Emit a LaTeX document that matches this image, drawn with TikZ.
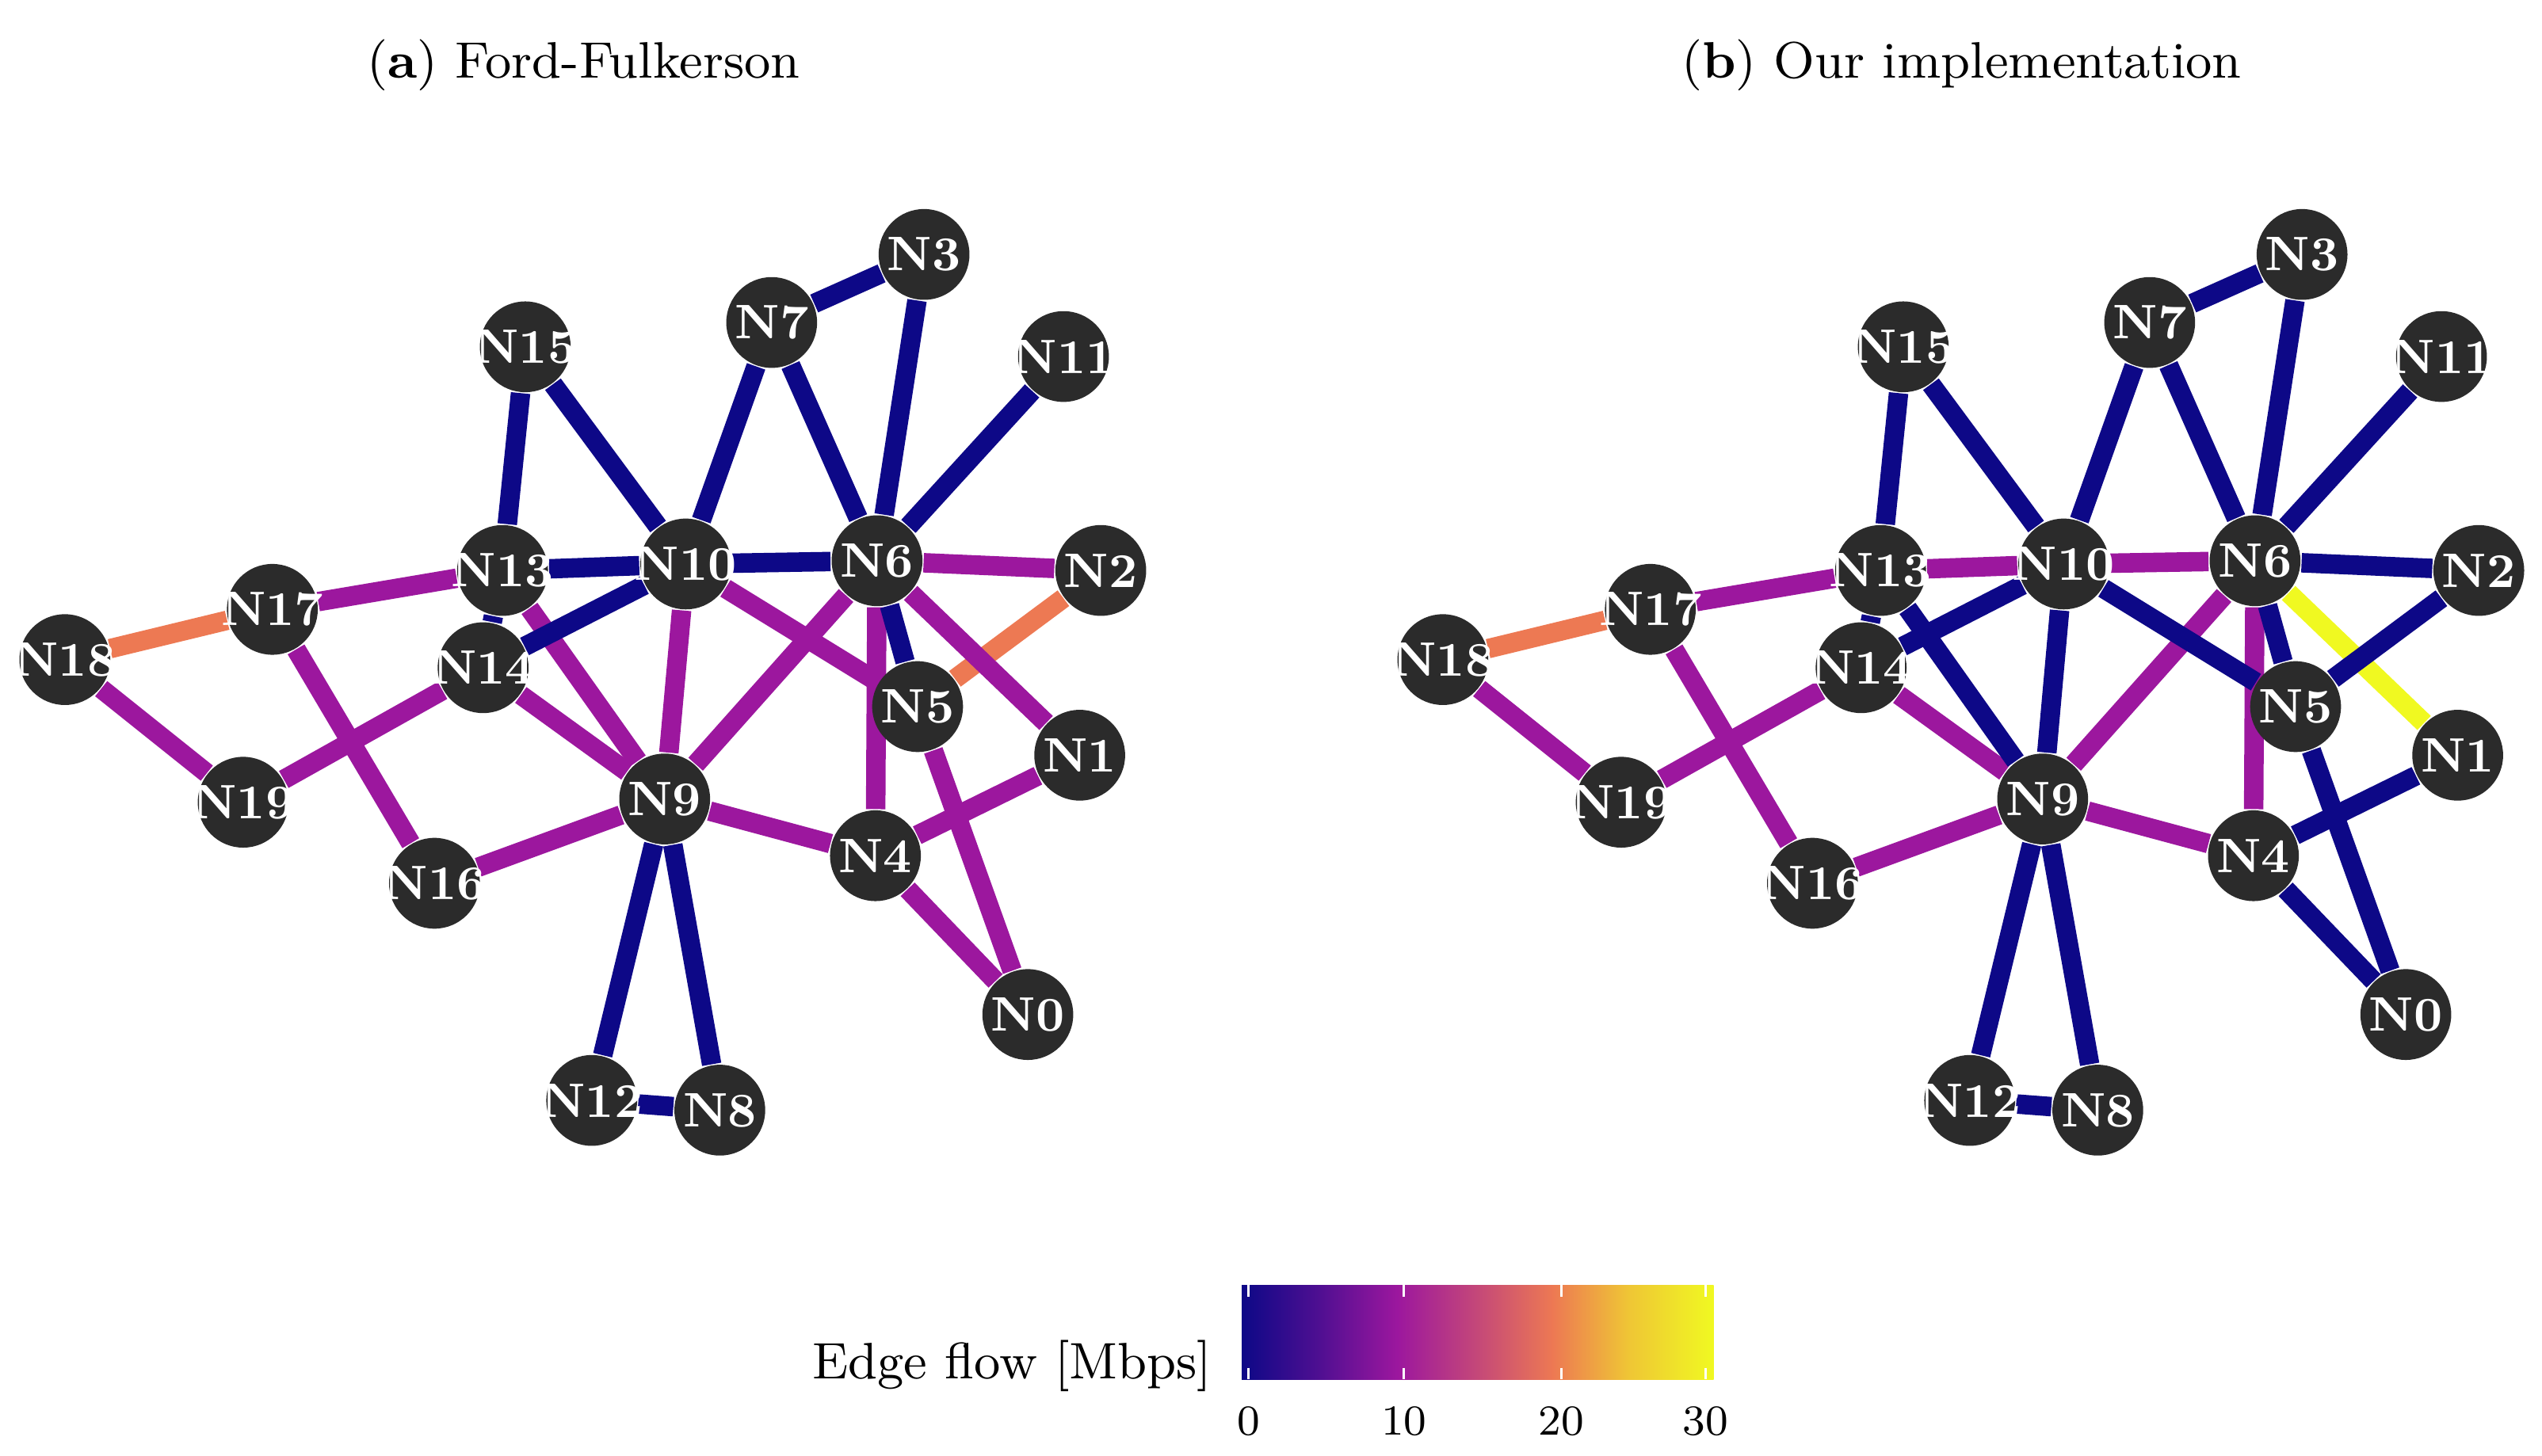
\documentclass[tikz,border=0pt]{standalone}
\usetikzlibrary{backgrounds}
\definecolor{eb}{HTML}{0D0887}
\definecolor{ep}{HTML}{9C179E}
\definecolor{eo}{HTML}{ED7953}
\definecolor{ey}{HTML}{F0F921}
\definecolor{nd}{HTML}{2B2B2B}
\pgfdeclarehorizontalshading{plasma}{100bp}{color(0bp)=(eb); color(25bp)=(eb); color(33bp)=(eb!55!ep); color(41.5bp)=(ep); color(50bp)=(ep!50!eo); color(58bp)=(eo); color(66bp)=(eo!40!ey); color(75bp)=(ey); color(100bp)=(ey)}
\tikzset{
 nd/.style={circle,fill=nd,minimum size=0.56cm,inner sep=0pt},
 lb/.style={text=white,font=\fontsize{8.5}{9}\selectfont\bfseries},
 e/.style={line width=0.12cm},
 B/.style={e,eb}, P/.style={e,ep}, O/.style={e,eo}, Y/.style={e,ey}
}
\begin{document}
\begin{tikzpicture}[x=0.01cm,y=-0.01cm]
\useasboundingbox (0,0) rectangle (1568,898);
\foreach \p/\dx in {a/0,b/850}{
 \foreach \n/\x/\y in {18/40/407,17/168/376,19/150/495,16/268/545,14/298/412,13/310/352,15/324/214,10/423/348,7/476/199,3/570/157,11/656/220,6/541/346,2/679/352,5/566/436,1/666/466,4/540/528,0/634/626,9/410/493,12/365/679,8/444/685}
  \node[nd,label={[lb]center:N\n}] (\p\n) at (\x+\dx,\y) {};
}
\begin{scope}[on background layer]
% left
\draw[O] (a18)--(a17); \draw[O] (a2)--(a5);
\foreach \u/\v in {18/19,17/13,17/16,19/14,13/9,14/9,10/9,10/5,6/2,6/1,6/4,6/9,5/0,1/4,4/0,9/4,9/16}
  \draw[P] (a\u)--(a\v);
\foreach \u/\v in {15/13,15/10,13/10,13/14,14/10,10/7,10/6,7/3,7/6,3/6,11/6,6/5,9/12,9/8,12/8}
  \draw[B] (a\u)--(a\v);
% right
\draw[O] (b18)--(b17); \draw[Y] (b6)--(b1);
\foreach \u/\v in {18/19,17/13,17/16,19/14,13/10,14/9,10/6,6/4,6/9,9/4,9/16}
  \draw[P] (b\u)--(b\v);
\foreach \u/\v in {15/13,15/10,13/9,13/14,14/10,10/7,10/9,10/5,7/3,7/6,3/6,11/6,6/2,6/5,5/0,2/5,1/4,4/0,9/12,9/8,12/8}
  \draw[B] (b\u)--(b\v);
\end{scope}
\node[font=\fontsize{9}{11}\selectfont] (ta) at (360,40) {(\textbf{a}) Ford-Fulkerson};
\node[font=\fontsize{9}{11}\selectfont] (tb) at (1210,40) {(\textbf{b}) Our implementation};
% colorbar
\shade[shading=plasma] (766,793) rectangle (1057,851);
\node[anchor=east,font=\fontsize{9}{11}\selectfont] (cl) at (760,843) {Edge flow [Mbps]};
\foreach \t/\x in {0/770,10/866,20/963,30/1052}{
 \draw[white,line width=0.4pt] (\x,793)--(\x,800) (\x,844)--(\x,851);
 \node[font=\fontsize{7.5}{9}\selectfont] (tk\t) at (\x,877) {\t};
}
\end{tikzpicture}
\end{document}
